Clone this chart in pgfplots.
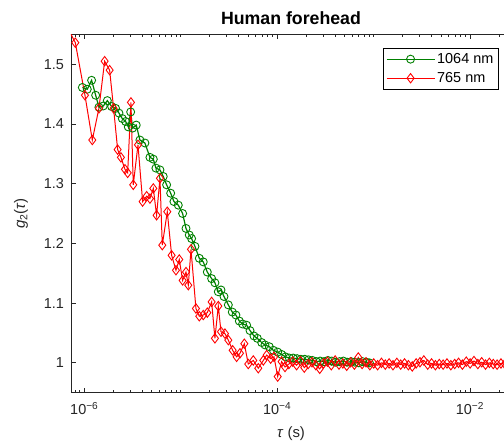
\documentclass[border=0pt]{standalone}
\usepackage{fontspec}
\setmainfont{Liberation Sans}
\usepackage{pgfplots}
\pgfplotsset{compat=1.18}
\definecolor{mgreen}{rgb}{0,0.5,0}
\definecolor{axgray}{rgb}{0.15,0.15,0.15}
\begin{document}
\begin{tikzpicture}
\begin{axis}[
  scale only axis,
  width=440bp, height=358.4bp,
  xmode=log,
  xmin=7.28e-7, xmax=2.667e-2,
  ymin=0.95, ymax=1.55,
  axis x line*=box, axis y line*=left,
  axis line style={axgray, line width=0.8bp},
  every tick/.style={axgray, line width=0.8bp},
  tick align=inside,
  major tick length=5bp, minor tick length=3bp,
  xtick={1e-6,1e-4,1e-2},
  xticklabels={10\textsuperscript{−6},10\textsuperscript{−4},10\textsuperscript{−2}},
  minor xtick={8e-7,9e-7,2e-6,3e-6,4e-6,5e-6,6e-6,7e-6,8e-6,9e-6,1e-5,2e-5,3e-5,4e-5,5e-5,6e-5,7e-5,8e-5,9e-5,2e-4,3e-4,4e-4,5e-4,6e-4,7e-4,8e-4,9e-4,1e-3,2e-3,3e-3,4e-3,5e-3,6e-3,7e-3,8e-3,9e-3,2e-2},
  ytick={1,1.1,1.2,1.3,1.4,1.5},
  /pgf/number format/assume math mode=true,
  ticklabel style={font=\fontsize{14.5}{17}\selectfont, text=axgray},
  yticklabel style={xshift=-3.5bp},
  xticklabel style={yshift=-6bp},
  xlabel={\textit{τ} (s)},
  ylabel={\textit{g}\textsubscript{2}(\textit{τ})},
  label style={font=\fontsize{15}{17}\selectfont, text=axgray},
  xlabel style={yshift=-5bp},
  ylabel style={yshift=9bp},
  title={Human forehead},
  title style={font=\fontsize{17.8}{20}\selectfont\bfseries, text=black},
  legend style={at={(0.972,0.963)}, anchor=north east, draw=black, line width=0.6bp,
    font=\fontsize{14.5}{17}\selectfont, inner xsep=3bp, inner ysep=3.5bp, row sep=3.5bp},
  legend cell align=left,
  legend image code/.code={\draw[mark repeat=2,mark phase=2] plot coordinates {(0bp,0bp) (24bp,0bp) (48bp,0bp)};},
]
\addplot[mgreen, line width=1.2bp, mark=o, mark size=4bp, mark options={line width=0.9bp}] coordinates {
(9.55e-7,1.461) (1.074e-6,1.458) (1.191e-6,1.473) (1.312e-6,1.448) (1.419e-6,1.428)
(1.574e-6,1.430) (1.734e-6,1.439) (1.923e-6,1.429) (2.113e-6,1.426) (2.291e-6,1.418)
(2.477e-6,1.409) (2.685e-6,1.404) (2.858e-6,1.395) (3.027e-6,1.420) (3.170e-6,1.393)
(3.459e-6,1.398) (3.776e-6,1.373) (4.256e-6,1.368) (4.797e-6,1.344) (5.200e-6,1.341)
(5.534e-6,1.326) (6.095e-6,1.323) (6.592e-6,1.312) (7.145e-6,1.298) (7.870e-6,1.284)
(8.511e-6,1.270) (9.441e-6,1.264) (1.047e-5,1.250) (1.135e-5,1.225) (1.227e-5,1.214)
(1.297e-5,1.208) (1.406e-5,1.195) (1.560e-5,1.175) (1.714e-5,1.169) (1.888e-5,1.152)
(2.094e-5,1.141) (2.265e-5,1.134) (2.455e-5,1.119) (2.618e-5,1.122) (2.812e-5,1.111)
(3.119e-5,1.097) (3.428e-5,1.085) (3.741e-5,1.080) (4.055e-5,1.070) (4.385e-5,1.065)
(4.831e-5,1.063) (5.236e-5,1.054) (5.754e-5,1.045) (6.237e-5,1.041) (6.918e-5,1.034)
(7.482e-5,1.030) (8.299e-5,1.027) (9.141e-5,1.021) (1.014e-4,1.018) (1.114e-4,1.014)
(1.222e-4,1.010) (1.340e-4,1.008) (1.469e-4,1.008) (1.611e-4,1.007) (1.766e-4,1.006)
(1.936e-4,1.006) (2.123e-4,1.005) (2.328e-4,1.004) (2.553e-4,1.002) (2.799e-4,1.003)
(3.069e-4,1.002) (3.365e-4,1.004) (3.690e-4,1.003) (4.046e-4,1.001) (4.436e-4,1.002)
(4.864e-4,1.003) (5.333e-4,1.001) (5.848e-4,1.002) (6.412e-4,1.001) (7.031e-4,1.000)
(7.709e-4,1.002) (8.453e-4,1.001) (9.057e-4,1.000)
};
\addlegendentry{1064 nm}
\addplot[red, line width=1bp, mark=diamond, mark size=4.7bp, mark options={line width=0.9bp}] coordinates {
(6.457e-7,1.566) (8.07e-7,1.536) (1.016e-6,1.448) (1.211e-6,1.373) (1.419e-6,1.426)
(1.626e-6,1.505) (1.832e-6,1.490) (2.014e-6,1.426) (2.218e-6,1.357) (2.399e-6,1.344)
(2.642e-6,1.324) (2.818e-6,1.318) (3.048e-6,1.436) (3.221e-6,1.298) (3.606e-6,1.365)
(4.027e-6,1.270) (4.436e-6,1.279) (4.797e-6,1.275) (5.200e-6,1.292) (5.623e-6,1.247)
(6.095e-6,1.309) (6.442e-6,1.197) (7.261e-6,1.253) (8.054e-6,1.180) (8.933e-6,1.155)
(9.661e-6,1.173) (1.047e-5,1.138) (1.135e-5,1.152) (1.199e-5,1.130) (1.279e-5,1.190)
(1.439e-5,1.091) (1.560e-5,1.078) (1.714e-5,1.080) (1.888e-5,1.084) (2.094e-5,1.102)
(2.265e-5,1.041) (2.455e-5,1.095) (2.618e-5,1.052) (2.877e-5,1.049) (3.119e-5,1.038)
(3.459e-5,1.021) (3.802e-5,1.010) (4.121e-5,1.016) (4.571e-5,1.032) (5.023e-5,0.998)
(5.662e-5,1.004) (6.383e-5,0.991) (7.194e-5,1.004) (7.798e-5,1.013) (8.570e-5,1.007)
(9.290e-5,1.010) (1.014e-4,0.977) (1.114e-4,1.002) (1.208e-4,0.993)
(1.324e-4,0.998) (1.452e-4,1.002) (1.592e-4,0.996) (1.746e-4,1.003) (1.914e-4,0.992)
(2.099e-4,0.998) (2.301e-4,1.001) (2.523e-4,0.996) (2.767e-4,0.990) (3.034e-4,0.999)
(3.327e-4,1.002) (3.648e-4,0.996) (4.000e-4,1.004) (4.385e-4,0.997) (4.808e-4,0.999)
(5.272e-4,0.995) (5.781e-4,1.001) (6.339e-4,0.997) (6.950e-4,1.009) (7.621e-4,0.998)
(8.356e-4,1.001) (9.162e-4,0.996) (1.005e-3,0.999) (1.102e-3,0.996) (1.208e-3,1.000)
(1.324e-3,0.997) (1.452e-3,0.999) (1.592e-3,0.996) (1.746e-3,1.000) (1.914e-3,0.997)
(2.099e-3,0.999) (2.301e-3,0.996) (2.523e-3,0.994) (2.767e-3,0.999) (3.034e-3,1.001)
(3.327e-3,1.004) (3.648e-3,0.997) (4.000e-3,0.999) (4.385e-3,0.996) (4.808e-3,0.998)
(5.272e-3,0.997) (5.781e-3,0.999) (6.339e-3,0.996) (6.950e-3,0.998) (7.621e-3,1.000)
(8.356e-3,0.997) (9.162e-3,1.002) (1.005e-2,0.999) (1.102e-2,1.003) (1.208e-2,0.998)
(1.324e-2,1.001) (1.452e-2,0.997) (1.592e-2,1.000) (1.746e-2,0.998) (1.914e-2,0.997)
(2.099e-2,0.999) (2.301e-2,0.998) (2.523e-2,0.997) (2.767e-2,0.999)
};
\addlegendentry{765 nm}
\end{axis}
\pgfresetboundingbox
\useasboundingbox (-71bp,-49.3bp) rectangle (433bp,392.7bp);
\end{tikzpicture}
\end{document}
